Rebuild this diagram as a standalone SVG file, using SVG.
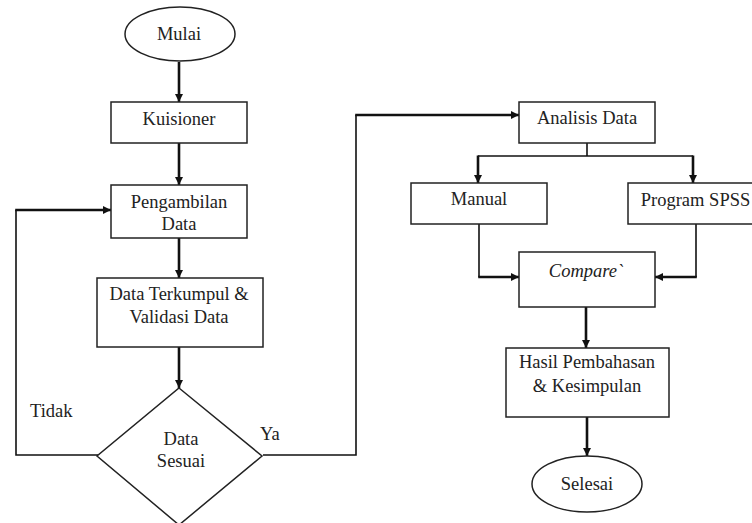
<svg xmlns="http://www.w3.org/2000/svg" width="752" height="523" viewBox="0 0 752 523">
<defs>
<marker id="ah" viewBox="0 0 10 10" refX="10" refY="5" markerWidth="9" markerHeight="8" markerUnits="userSpaceOnUse" orient="auto">
<path d="M0,0 L10,5 L0,10 z" fill="#111"/>
</marker>
</defs>
<style>
.box{fill:#fff;stroke:#222;stroke-width:1.5}
.thin{fill:none;stroke:#111;stroke-width:1.6}
.thick{fill:none;stroke:#111;stroke-width:2.6;marker-end:url(#ah)}
</style>
<rect width="752" height="523" fill="#fff"/>
<g id="connectors">
<path class="thick" d="M179,62 V102"/>
<path class="thick" d="M179,143 V185"/>
<path class="thick" d="M179,238 V278"/>
<path class="thick" d="M179,347 V388"/>
<path class="thin" d="M98,455 H16 V210"/>
<path class="thick" d="M15.2,210 H111"/>
<path class="thin" d="M263,455 H356 V115"/>
<path class="thick" d="M355.2,115 H519"/>
<path class="thin" d="M587,143 V156"/>
<path class="thin" d="M478,156 H693"/>
<path class="thick" d="M478,155.5 V183"/>
<path class="thick" d="M693,155.5 V183"/>
<path class="thin" d="M479,224 V277"/>
<path class="thick" d="M478.2,277 H519"/>
<path class="thin" d="M696,224 V277"/>
<path class="thick" d="M696.8,277 H655"/>
<path class="thick" d="M586,307 V348"/>
<path class="thick" d="M587,417 V456"/>
</g>
<g font-family="'Liberation Serif', 'Times New Roman', serif" font-size="18.5" fill="#222" text-anchor="middle">
<g id="mulai">
<ellipse class="box" cx="180" cy="34" rx="55" ry="27"/>
<text x="179" y="40">Mulai</text>
</g>
<g id="kuisioner">
<rect class="box" x="111" y="102" width="136" height="41"/>
<text x="179" y="125">Kuisioner</text>
</g>
<g id="pengambilan">
<rect class="box" x="111" y="185" width="136" height="53"/>
<text x="179" y="208">Pengambilan</text>
<text x="179" y="230">Data</text>
</g>
<g id="terkumpul">
<rect class="box" x="97" y="278" width="166" height="69"/>
<text x="179" y="300">Data Terkumpul &amp;</text>
<text x="179" y="323">Validasi Data</text>
</g>
<g id="sesuai">
<polygon class="box" points="179,388 262,456 179,525 97,456"/>
<text x="181" y="445">Data</text>
<text x="181" y="467">Sesuai</text>
</g>
<g id="labels" text-anchor="start">
<text x="30" y="417">Tidak</text>
<text x="260" y="440">Ya</text>
</g>
<g id="analisis">
<rect class="box" x="519" y="102" width="136" height="41"/>
<text x="587" y="124">Analisis Data</text>
</g>
<g id="manual">
<rect class="box" x="411" y="183" width="136" height="41"/>
<text x="479" y="205">Manual</text>
</g>
<g id="spss">
<rect class="box" x="628" y="183" width="135" height="41"/>
<text x="695.5" y="206">Program SPSS</text>
</g>
<g id="compare">
<rect class="box" x="519" y="252" width="136" height="55"/>
<text x="586" y="277" font-style="italic">Compare`</text>
</g>
<g id="hasil">
<rect class="box" x="506" y="348" width="163" height="69"/>
<text x="587" y="368">Hasil Pembahasan</text>
<text x="587" y="392">&amp; Kesimpulan</text>
</g>
<g id="selesai">
<ellipse class="box" cx="587" cy="484" rx="55" ry="28"/>
<text x="587" y="490">Selesai</text>
</g>
</g>
</svg>
